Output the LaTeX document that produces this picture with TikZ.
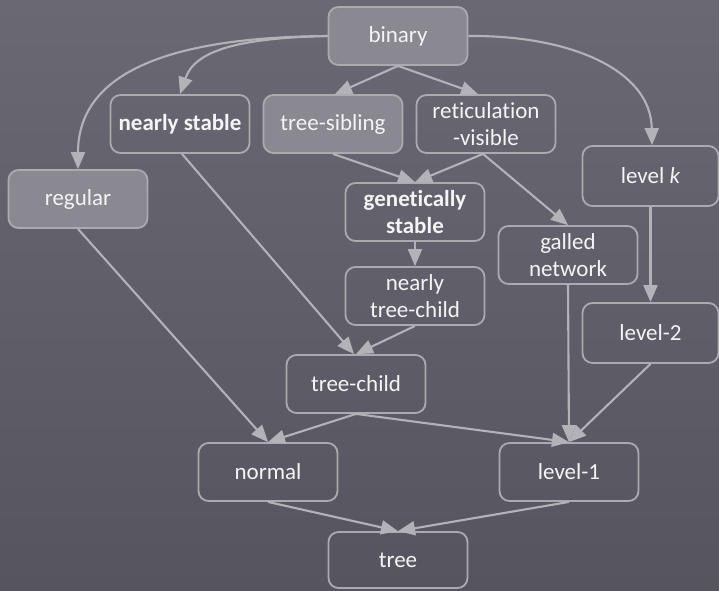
\documentclass[tikz,border=0pt]{standalone}
\usepackage{fontspec}
\setmainfont[Ligatures=NoCommon]{Carlito}
\usetikzlibrary{arrows.meta}
\definecolor{bgtop}{HTML}{6A6973}
\definecolor{bgbot}{HTML}{56555F}
\definecolor{edgecol}{HTML}{B3B2B9}
\definecolor{boxline}{HTML}{ABAAB1}
\definecolor{boxfill}{HTML}{8A8891}
\definecolor{txt}{HTML}{F4F4F6}
\tikzset{
  cls/.style={draw=boxline, line width=1.8pt, rounded corners=10pt,
    minimum width=139pt, minimum height=58pt, align=center,
    text=txt, font=\fontsize{23}{27}\selectfont, inner sep=2pt},
  hl/.style={cls, fill=boxfill},
  link/.style={draw=edgecol, line width=2.1pt,
    -{Triangle[length=17pt 0,width=14pt 0]}},
}
\begin{document}
\begin{tikzpicture}[x=1pt,y=-1pt]
  % background
  \shade[top color=bgtop, bottom color=bgbot] (0,0) rectangle (719,590);
  \useasboundingbox (0,0) rectangle (719,590);

  % classes of networks
  \node[hl]  (bin) at (398,36)  {binary};
  \node[cls] (ns)  at (180,124) {\textbf{nearly stable}};
  \node[hl]  (ts)  at (333,124) {tree-sibling};
  \node[cls] (rv)  at (486,124) {reticulation\\-visible};
  \node[hl]  (reg) at (78,199)  {regular};
  \node[cls, minimum width=136pt, minimum height=60pt] (lk) at (650.5,176) {level \textit{k}};
  \node[cls] (gs)  at (415,212) {\textbf{genetically}\\\textbf{stable}};
  \node[cls] (gn)  at (568,255) {galled\\network};
  \node[cls] (ntc) at (415,296) {nearly\\tree-child};
  \node[cls, minimum width=136pt, minimum height=60pt] (l2) at (650.5,333) {level-2};
  \node[cls] (tc)  at (356,384) {tree-child};
  \node[cls] (nor) at (268,472) {normal};
  \node[cls] (l1)  at (569,472) {level-1};
  \node[cls, minimum height=56pt] (tr) at (398,560) {tree};

  % inclusions
  \draw[link] (bin.west) .. controls (200,37) and (78,60) .. (reg.north);
  \draw[link] (bin.west) .. controls (240,38) and (195,50) .. (ns.north);
  \draw[link] (bin.south) -- ([xshift=2pt]ts.north);
  \draw[link] (bin.south) -- ([xshift=-8pt]rv.north);
  \draw[link] (bin.east) .. controls (570,35) and (651,70) .. ([xshift=1.5pt]lk.north);
  \draw[link] ([xshift=2pt]ns.south) -- ([xshift=-2pt]tc.north);
  \draw[link] (ts.south) -- (gs.north);
  \draw[link] ([xshift=-3pt]rv.south) -- (gs.north);
  \draw[link] ([xshift=-3pt]rv.south) -- (gn.north);
  \draw[link] (gs.south) -- (ntc.north);
  \draw[link] (ntc.south) -- (tc.north);
  \draw[link] (reg.south) -- (nor.north);
  \draw[link] (tc.south) -- (nor.north);
  \draw[link] (tc.south) -- (l1.north);
  \draw[link] (gn.south) -- (l1.north);
  \draw[link] (lk.south) -- (l2.north);
  \draw[link] (l2.south) -- (l1.north);
  \draw[link] (nor.south) -- (tr.north);
  \draw[link] (l1.south) -- (tr.north);
\end{tikzpicture}
\end{document}
